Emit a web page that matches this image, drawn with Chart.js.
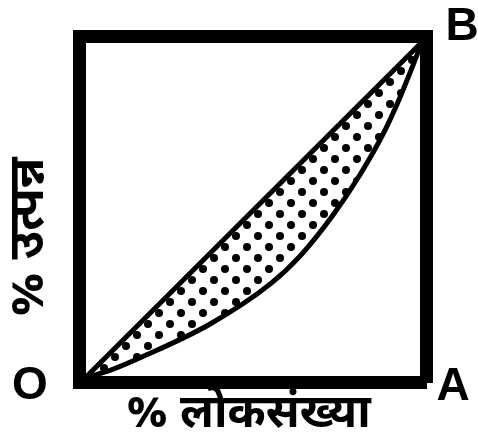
<!DOCTYPE html>
<html>
<head>
<meta charset="utf-8">
<script src="https://cdn.jsdelivr.net/npm/chart.js@4.4.0/dist/chart.umd.min.js"></script>
<style>
html,body{margin:0;padding:0;background:#fff;}
#wrap{width:478px;height:443px;position:relative;}
</style>
</head>
<body>
<div id="wrap"><canvas id="c" width="478" height="443"></canvas></div>
<script>
// Data (percent of population vs percent of income)
const equalityX = [0, 100];
const equalityY = [0, 100];
const lorenzX = [0, 8, 17, 37, 55, 64, 73.6, 81.6, 88.4, 93.5, 97.3, 100];
const lorenzY = [0, 2.5, 6.3, 16, 28, 36.5, 48.5, 60.5, 72.5, 83.6, 93, 100];
const xTitle = '% लोकसंख्या';
const yTitle = '% उत्पन्न';
const cornerLabels = ['O', 'A', 'B'];

function dotPattern() {
  const c = document.createElement('canvas');
  c.width = 22; c.height = 22;
  const g = c.getContext('2d');
  g.fillStyle = '#000';
  g.beginPath(); g.arc(5, 5, 4, 0, Math.PI * 2); g.fill();
  g.beginPath(); g.arc(16, 16, 4, 0, Math.PI * 2); g.fill();
  const ctx = document.getElementById('c').getContext('2d');
  return ctx.createPattern(c, 'repeat');
}

const devFont = '"Noto Sans Devanagari","Lohit Devanagari","Noto Sans","Mukta",sans-serif';

const labelsPlugin = {
  id: 'labels',
  afterDraw(chart) {
    const ctx = chart.ctx;
    const a = chart.chartArea;
    ctx.save();
    ctx.fillStyle = '#000';
    ctx.textAlign = 'center';
    ctx.textBaseline = 'middle';
    ctx.font = 'bold 46px "Liberation Sans", Arial, sans-serif';
    ctx.fillText(cornerLabels[0], a.left - 49, a.bottom + 4);
    ctx.fillText(cornerLabels[1], a.right + 27, a.bottom + 5);
    ctx.fillText(cornerLabels[2], a.right + 36, a.top - 9);
    ctx.font = 'bold 46px ' + devFont;
    ctx.fillText(xTitle, (a.left + a.right) / 2 - 4, a.bottom + 36);
    ctx.font = 'bold 49px ' + devFont;
    ctx.translate(a.left - 45, (a.top + a.bottom) / 2 + 28);
    ctx.rotate(-Math.PI / 2);
    ctx.fillText(yTitle, 0, 0);
    ctx.restore();
  }
};

const borderAxis = (pos, min, max, axis) => ({
  type: 'linear', position: pos, min: min, max: max, axis: axis,
  ticks: { display: false },
  grid: { display: false, drawTicks: false },
  border: { display: true, color: '#000', width: 13 }
});

new Chart(document.getElementById('c'), {
  type: 'line',
  data: {
    datasets: [
      {
        data: equalityX.map((x, i) => ({ x: x, y: equalityY[i] })),
        borderColor: '#000', borderWidth: 5, pointRadius: 0,
        fill: '+1', backgroundColor: dotPattern(), clip: false
      },
      {
        data: lorenzX.map((x, i) => ({ x: x, y: lorenzY[i] })),
        borderColor: '#000', borderWidth: 5, pointRadius: 0,
        cubicInterpolationMode: 'monotone', fill: false, clip: false
      }
    ]
  },
  options: {
    responsive: false,
    animation: false,
    devicePixelRatio: 1,
    layout: { padding: { left: 79, right: 52, top: 36, bottom: 61 } },
    plugins: { legend: { display: false }, tooltip: { enabled: false } },
    scales: {
      x: borderAxis('bottom', -1.8, 101.2, 'x'),
      x2: borderAxis('top', -1.8, 101.2, 'x'),
      y: borderAxis('left', -1.2, 101.8, 'y'),
      y2: borderAxis('right', -1.2, 101.8, 'y')
    }
  },
  plugins: [labelsPlugin]
});
</script>
</body>
</html>
